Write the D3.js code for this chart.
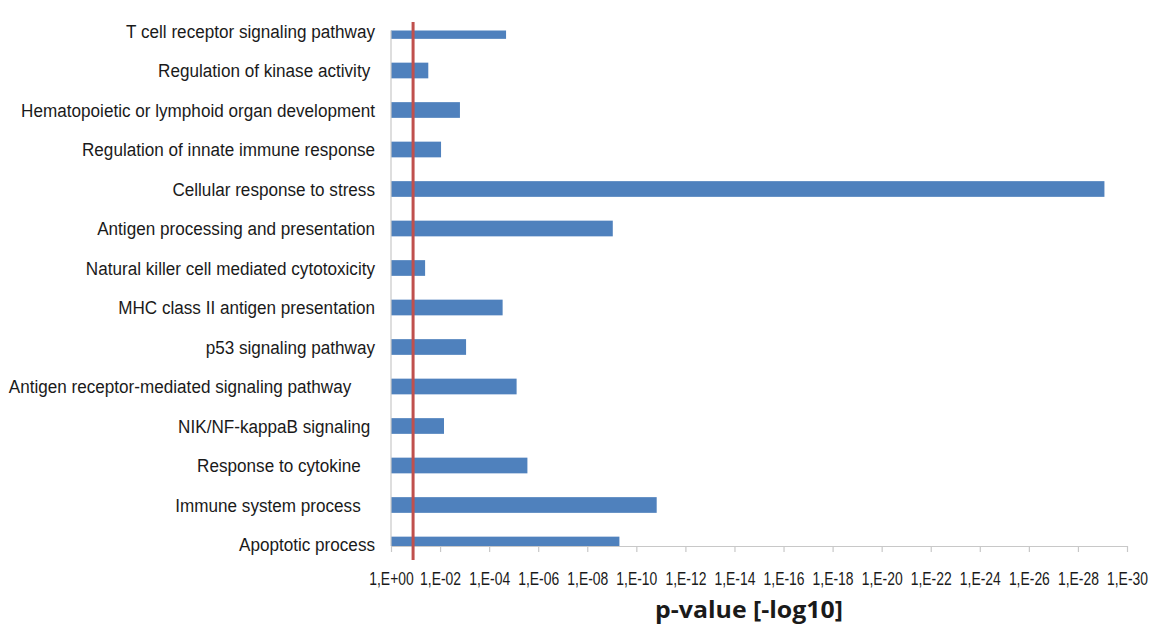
<!DOCTYPE html>
<html>
<head>
<meta charset="utf-8">
<script src="https://cdn.jsdelivr.net/npm/d3@7"></script>
<style>
  html, body { margin: 0; padding: 0; background: #ffffff; }
  svg { display: block; }
  text { white-space: pre; }
</style>
</head>
<body>
<svg id="chart" width="1150" height="626"></svg>
<script>
// ---- data (-log10 p-value) ----
const categories = [
  "T cell receptor signaling pathway",
  "Regulation of kinase activity ",
  "Hematopoietic or lymphoid organ development",
  "Regulation of innate immune response",
  "Cellular response to stress",
  "Antigen processing and presentation",
  "Natural killer cell mediated cytotoxicity",
  "MHC class II antigen presentation",
  "p53 signaling pathway",
  "Antigen receptor-mediated signaling pathway     ",
  "NIK/NF-kappaB signaling ",
  "Response to cytokine   ",
  "Immune system process   ",
  "Apoptotic process"
];
const values = [4.69, 1.52, 2.81, 2.04, 29.08, 9.04, 1.39, 4.55, 3.06, 5.12, 2.16, 5.56, 10.83, 9.31];
const thresholdValue = 0.9;
const tickValues = [0, 2, 4, 6, 8, 10, 12, 14, 16, 18, 20, 22, 24, 26, 28, 30];
const tickLabels = ["1,E+00","1,E-02","1,E-04","1,E-06","1,E-08","1,E-10","1,E-12","1,E-14","1,E-16","1,E-18","1,E-20","1,E-22","1,E-24","1,E-26","1,E-28","1,E-30"];
const axisTitle = "p-value [-log10]";

// ---- layout ----
const svg = d3.select("#chart");
const plotLeft = 391, plotRight = 1127, plotTop = 30.5, plotBottom = 546;
const labelFont = "'Liberation Sans', Arial, sans-serif";

const x = d3.scaleLinear().domain([0, 30]).range([plotLeft, plotRight]);
const y = d3.scalePoint().domain(categories).range([31, 544.5]);
const barH = 15.7;

// helper: horizontal squeeze factor so that a reference string reaches a target width
function squeeze(fontSize, family, weight, sample, targetW) {
  const t = svg.append("text").attr("font-size", fontSize).attr("font-family", family)
    .attr("font-weight", weight).text(sample);
  const w = t.node().getComputedTextLength();
  t.remove();
  return targetW / w;
}

svg.append("defs").append("clipPath").attr("id", "plotclip")
  .append("rect").attr("x", plotLeft).attr("y", plotTop)
  .attr("width", plotRight - plotLeft + 20).attr("height", plotBottom - plotTop);

// bars
svg.append("g").attr("clip-path", "url(#plotclip)")
  .selectAll("rect").data(values).join("rect")
  .attr("x", x(0))
  .attr("y", (d, i) => y(categories[i]) - barH / 2)
  .attr("width", d => x(d) - x(0))
  .attr("height", barH)
  .attr("fill", "#4f81bd");

// y axis line
svg.append("line")
  .attr("x1", x(0)).attr("x2", x(0))
  .attr("y1", plotTop).attr("y2", plotBottom)
  .attr("stroke", "#c8c8c8").attr("stroke-width", 1.2);

// category labels
const catSize = 19;
const sCat = squeeze(catSize, labelFont, "normal", categories[2], 354);
svg.append("g")
  .selectAll("text").data(categories).join("text")
  .attr("transform", d => `translate(375,${y(d)}) scale(${sCat},1)`)
  .attr("dy", "0.35em")
  .attr("text-anchor", "end")
  .attr("font-family", labelFont)
  .attr("font-size", catSize)
  .attr("fill", "#1a1a1a")
  .text(d => d);

// x axis
const tickSize = 18;
const sTick = squeeze(tickSize, labelFont, "normal", tickLabels[1], 41);
const xAxis = d3.axisBottom(x).tickValues(tickValues)
  .tickFormat((d, i) => tickLabels[i]).tickSize(6).tickSizeOuter(0).tickPadding(10);
const gx = svg.append("g").attr("transform", `translate(0,${plotBottom})`).call(xAxis);
gx.select(".domain").attr("stroke", "#c8c8c8").attr("stroke-width", 1.2);
gx.selectAll(".tick line").attr("stroke", "#c8c8c8").attr("stroke-width", 1.2);
gx.selectAll(".tick text")
  .attr("y", 39).attr("dy", "0")
  .attr("transform", `scale(${sTick},1)`)
  .attr("font-family", labelFont).attr("font-size", tickSize).attr("fill", "#1a1a1a");

// threshold line
svg.append("line")
  .attr("x1", x(thresholdValue)).attr("x2", x(thresholdValue))
  .attr("y1", 22).attr("y2", 560)
  .attr("stroke", "#c0504d").attr("stroke-width", 3);

// axis title
const titleSize = 23;
const titleFont = "'Open Sans', sans-serif";
const sTitle = squeeze(titleSize, titleFont, "bold", axisTitle, 188);
svg.append("text")
  .attr("transform", `translate(749,618) scale(${sTitle},1)`)
  .attr("text-anchor", "middle")
  .attr("font-family", titleFont)
  .attr("font-weight", "bold")
  .attr("font-size", titleSize)
  .attr("fill", "#1a1a1a")
  .text(axisTitle);
</script>
</body>
</html>
